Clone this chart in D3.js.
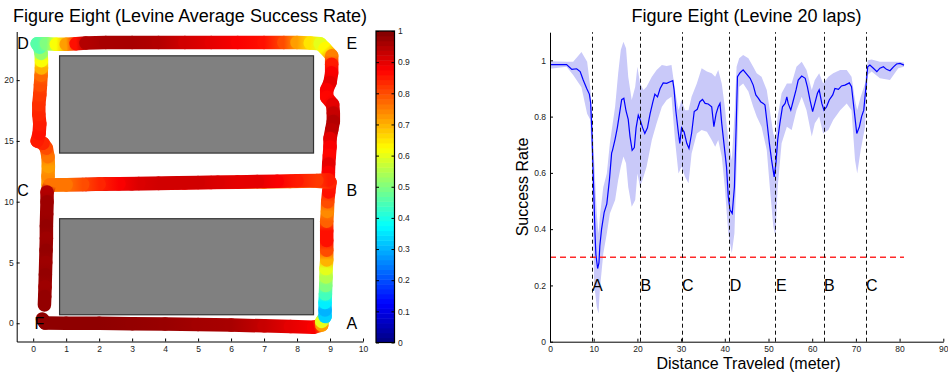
<!DOCTYPE html>
<html>
<head>
<meta charset="utf-8">
<script src="https://cdn.jsdelivr.net/npm/d3@7"></script>
<style>
  body { margin: 0; background: #fff; }
  svg { display: block; font-family: "Liberation Sans", Arial, sans-serif; }
  .axis path, .axis line { stroke: #000; }
  .axis text { font-size: 8.5px; fill: #222; font-family: "Liberation Sans", Arial, sans-serif; }
</style>
</head>
<body>
<svg id="chart" width="948" height="373"></svg>
<script>
// success rate vs distance (mean over 20 laps)
const distX = [0, 3.8, 5, 6.1, 6.9, 7.6, 8.4, 9, 9.3, 9.6, 9.9, 10.3, 10.5, 10.9, 11.2, 11.4, 11.8, 12.4, 13, 13.6, 14.1, 14.3, 14.9, 15.4, 15.9, 16.4, 16.9, 17.4, 17.9, 18.3, 18.8, 19.3, 19.7, 20.2, 20.6, 21.2, 21.7, 22.3, 22.9, 23.5, 24, 24.6, 25.2, 25.9, 26.7, 27.5, 28.1, 28.4, 28.8, 29.4, 29.7, 30.1, 30.7, 31.3, 31.8, 32.4, 33, 33.7, 34.3, 34.9, 35.5, 36.2, 37, 37.5, 38, 38.5, 38.9, 39.3, 39.8, 40.4, 40.8, 41.2, 41.7, 42.2, 42.6, 42.9, 43.5, 44.2, 45, 45.8, 46.5, 47.1, 47.7, 48.2, 48.8, 49.2, 49.6, 50.2, 50.7, 51.3, 51.7, 52.1, 52.6, 53.2, 53.8, 54.2, 54.5, 55.1, 55.7, 56.3, 56.8, 57.6, 58.4, 58.9, 59.5, 60.1, 60.6, 61.2, 61.6, 62.2, 62.7, 63.3, 63.9, 64.7, 65.2, 66, 66.7, 67.5, 68.5, 69, 69.6, 70.2, 70.8, 71.3, 71.8, 72.3, 72.7, 73.2, 74, 74.8, 75.5, 76.3, 77, 77.8, 78.6, 79.3, 80.1, 81];
const meanRate = [0.985, 0.985, 0.968, 0.97, 0.96, 0.93, 0.9, 0.88, 0.85, 0.74, 0.59, 0.385, 0.31, 0.26, 0.28, 0.34, 0.4, 0.46, 0.49, 0.575, 0.67, 0.68, 0.72, 0.76, 0.81, 0.86, 0.865, 0.82, 0.79, 0.73, 0.68, 0.69, 0.76, 0.805, 0.79, 0.76, 0.74, 0.76, 0.81, 0.85, 0.88, 0.87, 0.9, 0.92, 0.918, 0.924, 0.928, 0.895, 0.82, 0.74, 0.705, 0.76, 0.745, 0.705, 0.687, 0.74, 0.818, 0.826, 0.853, 0.861, 0.847, 0.845, 0.835, 0.764, 0.81, 0.835, 0.847, 0.776, 0.705, 0.62, 0.515, 0.468, 0.456, 0.55, 0.764, 0.942, 0.956, 0.966, 0.951, 0.936, 0.912, 0.877, 0.865, 0.853, 0.847, 0.841, 0.788, 0.705, 0.646, 0.586, 0.634, 0.717, 0.776, 0.835, 0.847, 0.87, 0.847, 0.823, 0.859, 0.895, 0.93, 0.944, 0.936, 0.906, 0.859, 0.818, 0.847, 0.883, 0.895, 0.847, 0.823, 0.835, 0.859, 0.877, 0.9, 0.897, 0.909, 0.912, 0.92, 0.906, 0.823, 0.74, 0.764, 0.8, 0.823, 0.906, 0.977, 0.983, 0.972, 0.96, 0.972, 0.977, 0.968, 0.963, 0.977, 0.987, 0.989, 0.983];

// spread band around the mean
const bandX = [0, 3.8, 5.3, 7.2, 8.5, 9.2, 9.6, 10.1, 10.7, 11.1, 11.4, 12.2, 13, 13.7, 14.9, 15.6, 16.2, 16.8, 17.4, 17.9, 18.7, 19.5, 20, 20.6, 21.4, 22.1, 23.3, 24.4, 25.6, 26.7, 27.8, 28.6, 29.4, 30.1, 30.9, 31.7, 32.4, 33.6, 34.7, 35.9, 37, 37.8, 38.5, 39.3, 40, 40.8, 41.6, 42.2, 42.7, 43.3, 44.2, 45.4, 46.5, 47.3, 48.4, 49.6, 50.3, 51.1, 51.6, 52.1, 53, 54.2, 55.3, 56.4, 57.6, 58.7, 59.9, 60.6, 61.6, 62.5, 63.7, 64.8, 66.4, 67.9, 69, 69.8, 70.3, 71.1, 72.1, 72.7, 73.6, 75.5, 77.8, 79.7, 81];
const bandUpper = [0.997, 0.995, 0.995, 1.03, 0.995, 0.906, 0.823, 0.646, 0.456, 0.385, 0.444, 0.55, 0.598, 0.705, 0.835, 0.954, 1.037, 1.066, 1.043, 0.942, 0.859, 0.906, 0.977, 0.918, 0.895, 0.906, 0.942, 0.966, 0.983, 0.98, 0.983, 0.895, 0.823, 0.859, 0.823, 0.823, 0.871, 0.918, 0.972, 0.96, 0.954, 0.942, 0.966, 0.918, 0.835, 0.717, 0.646, 0.8, 0.977, 1.007, 1.019, 1.007, 0.977, 0.954, 0.942, 0.895, 0.823, 0.74, 0.717, 0.8, 0.883, 0.918, 0.918, 0.977, 0.995, 0.966, 0.895, 0.93, 0.954, 0.918, 0.942, 0.954, 0.966, 0.966, 0.942, 0.859, 0.823, 0.871, 0.918, 1.0, 1.003, 0.995, 0.995, 0.995, 0.992];
const bandLower = [0.97, 0.977, 0.948, 0.904, 0.81, 0.79, 0.62, 0.207, 0.124, 0.1, 0.184, 0.314, 0.385, 0.456, 0.504, 0.575, 0.622, 0.658, 0.634, 0.55, 0.48, 0.504, 0.598, 0.55, 0.586, 0.622, 0.717, 0.776, 0.835, 0.859, 0.871, 0.717, 0.598, 0.622, 0.586, 0.563, 0.669, 0.74, 0.752, 0.746, 0.717, 0.693, 0.717, 0.658, 0.55, 0.385, 0.314, 0.385, 0.622, 0.906, 0.918, 0.889, 0.835, 0.8, 0.764, 0.681, 0.55, 0.409, 0.373, 0.55, 0.705, 0.764, 0.752, 0.823, 0.871, 0.823, 0.729, 0.776, 0.8, 0.74, 0.752, 0.788, 0.823, 0.847, 0.823, 0.646, 0.598, 0.681, 0.764, 0.948, 0.96, 0.936, 0.93, 0.972, 0.977];

// landmarks passed along the lap
const landmarkNames = ['A', 'B', 'C', 'D', 'E', 'B', 'C'];
const landmarkDist = [9.5, 20.6, 30.1, 41, 51.6, 62.6, 72.2];
const thresholdRate = 0.3;
const thresholdEnd = 81;

// trajectory on the floor map (meters) with average success rate
const trackX = [0.28, 0.36, 1, 2, 3, 4, 5, 6, 7, 7.8, 8.5, 8.75, 8.75,
  8.85, 8.85, 8.85, 8.86, 8.87, 8.88, 8.88, 8.9, 8.9, 8.9, 8.9, 8.9, 8.92, 8.93, 8.96, 9,
  8.5, 7.8, 7, 6.2, 5.4, 4.6, 3.8, 3, 2.2, 1.6, 1, 0.45,
  0.45, 0.46, 0.45, 0.4, 0.3, 0.12, 0.18, 0.2, 0.17, 0.17, 0.2, 0.22, 0.24, 0.25, 0.25, 0.24, 0.2, 0.12,
  0.4, 0.7, 1, 1.3, 1.6, 2.2, 3, 3.8, 4.6, 5.4, 6.2, 7, 7.6, 8, 8.4, 8.7,
  8.85, 9.05, 9.05, 9.05, 9, 8.9, 8.9, 9.08, 9.1, 9.1, 9.05, 9, 9, 8.98, 8.96, 8.95, 8.95,
  8.6, 8, 7.4, 6.8, 6.2, 5.6, 5, 4.4, 3.8, 3.2, 2.6, 2, 1.5, 1, 0.5,
  0.42, 0.42, 0.41, 0.4, 0.4, 0.39, 0.38, 0.37, 0.36, 0.35, 0.34];
const trackY = [0.35, 0.02, 0.01, 0, -0.03, -0.06, -0.1, -0.15, -0.21, -0.27, -0.33, -0.15, 0.15,
  0.55, 1.1, 1.7, 2.4, 3.1, 3.8, 4.5, 5.2, 6, 6.8, 7.6, 8.4, 9.2, 10, 10.8, 11.6,
  11.7, 11.66, 11.62, 11.6, 11.57, 11.53, 11.5, 11.47, 11.45, 11.42, 11.4, 11.38,
  12.1, 12.9, 13.7, 14.4, 14.8, 15, 15.6, 16.4, 17.2, 18, 18.8, 19.6, 20.4, 21, 21.6, 22.2, 22.7, 23,
  23, 22.95, 22.95, 23, 23.05, 23.1, 23.1, 23.1, 23.1, 23.1, 23.1, 23.1, 23.1, 23.1, 23.05, 23,
  22.6, 22, 21.3, 20.6, 19.8, 19.2, 18.6, 18, 17.3, 16.6, 15.9, 15.2, 14.5, 13.8, 13.1, 12.4, 11.8,
  11.75, 11.72, 11.69, 11.66, 11.63, 11.6, 11.58, 11.55, 11.52, 11.5, 11.47, 11.45, 11.42, 11.4, 11.38,
  10.8, 10, 9, 8, 7, 6, 5, 4, 3, 2.2, 1.5];
const trackRate = [0.985, 0.985, 0.985, 0.985, 0.98, 0.975, 0.965, 0.96, 0.93, 0.9, 0.88, 0.72, 0.6,
  0.33, 0.3, 0.36, 0.44, 0.5, 0.55, 0.6, 0.7, 0.8, 0.86, 0.86, 0.78, 0.74, 0.8, 0.86, 0.84,
  0.79, 0.75, 0.77, 0.84, 0.88, 0.89, 0.91, 0.92, 0.92, 0.9, 0.78, 0.72,
  0.74, 0.72, 0.76, 0.8, 0.84, 0.85, 0.86, 0.85, 0.84, 0.83, 0.82, 0.8, 0.77, 0.7, 0.62, 0.52, 0.46, 0.46,
  0.5, 0.62, 0.72, 0.86, 0.95, 0.96, 0.96, 0.95, 0.92, 0.9, 0.88, 0.86, 0.8, 0.72, 0.65, 0.6,
  0.63, 0.75, 0.85, 0.88, 0.9, 0.88, 0.87, 0.9, 0.93, 0.95, 0.94, 0.9, 0.88, 0.87, 0.9, 0.88, 0.85,
  0.82, 0.85, 0.88, 0.9, 0.9, 0.91, 0.92, 0.92, 0.92, 0.91, 0.88, 0.84, 0.8, 0.76, 0.76,
  0.95, 0.97, 0.97, 0.98, 0.97, 0.98, 0.97, 0.98, 0.97, 0.98, 0.98];

// building blocks (gray) and corner names on the map
const blockX0 = [0.8, 0.8];
const blockX1 = [8.5, 8.5];
const blockY0 = [14, 0.7];
const blockY1 = [22, 8.6];
const cornerNames = ['D', 'E', 'C', 'B', 'F', 'A'];
const cornerX = [-0.48, 9.5, -0.48, 9.5, 0.04, 9.5];
const cornerY = [23.05, 23.05, 10.97, 10.97, 0, 0];

const colorTicks = d3.range(0, 11).map((i) => i / 10);
const rateTicks = [0, 0.2, 0.4, 0.6, 0.8, 1];
const distTicks = d3.range(0, 100, 10);

// MATLAB jet colormap
const jet = (v) => {
  const c = (t) => Math.max(0, Math.min(1, t)) * 255;
  return d3.rgb(c(1.5 - Math.abs(4 * v - 3)), c(1.5 - Math.abs(4 * v - 2)), c(1.5 - Math.abs(4 * v - 1))).formatHex();
};
const fmt = (d) => String(+d.toFixed(1));
const crisp = (v) => Math.round(v) + 0.5;

const svg = d3.select('#chart');
const defs = svg.append('defs');

// ---------- left: floor map ----------
const mapX = d3.scaleLinear().domain([-0.5, 10]).range([16.7, 363]);
const mapY = d3.scaleLinear().domain([-1.5, 24]).range([341.5, 31.5]);

svg.append('text')
  .attr('x', 190).attr('y', 22)
  .attr('text-anchor', 'middle')
  .attr('font-size', 18)
  .text('Figure Eight (Levine Average Success Rate)');

svg.selectAll('rect.block')
  .data(blockX0)
  .enter()
  .append('rect')
  .attr('class', 'block')
  .attr('x', (d) => mapX(d))
  .attr('y', (d, i) => mapY(blockY1[i]))
  .attr('width', (d, i) => mapX(blockX1[i]) - mapX(d))
  .attr('height', (d, i) => mapY(blockY0[i]) - mapY(blockY1[i]))
  .attr('fill', '#808080')
  .attr('stroke', '#333')
  .attr('stroke-width', 1.2);

const segs = d3.range(trackX.length - 1).map((i) => ({
  i,
  x1: mapX(trackX[i]), y1: mapY(trackY[i]),
  x2: mapX(trackX[i + 1]), y2: mapY(trackY[i + 1]),
  c1: jet(trackRate[i]), c2: jet(trackRate[i + 1]),
}));

const grads = defs.selectAll('linearGradient')
  .data(segs)
  .enter()
  .append('linearGradient')
  .attr('id', (d) => 'seg' + d.i)
  .attr('gradientUnits', 'userSpaceOnUse')
  .attr('x1', (d) => d.x1).attr('y1', (d) => d.y1)
  .attr('x2', (d) => d.x2).attr('y2', (d) => d.y2);
grads.append('stop').attr('offset', 0).attr('stop-color', (d) => d.c1);
grads.append('stop').attr('offset', 1).attr('stop-color', (d) => d.c2);

svg.append('g')
  .selectAll('line')
  .data(segs)
  .enter()
  .append('line')
  .attr('x1', (d) => d.x1).attr('y1', (d) => d.y1)
  .attr('x2', (d) => d.x2).attr('y2', (d) => d.y2)
  .attr('stroke', (d) => `url(#seg${d.i})`)
  .attr('stroke-width', 13.5)
  .attr('stroke-linecap', 'round');

svg.append('g')
  .selectAll('text')
  .data(cornerNames)
  .enter()
  .append('text')
  .attr('x', (d, i) => mapX(cornerX[i]))
  .attr('y', (d, i) => mapY(cornerY[i]))
  .attr('dy', '0.36em')
  .attr('font-size', 16)
  .text((d) => d);

svg.append('g')
  .attr('class', 'axis')
  .attr('transform', `translate(0,${mapY(-1.5)})`)
  .call(d3.axisBottom(mapX).tickValues(d3.range(0, 11)).tickSizeInner(-3).tickSizeOuter(0).tickPadding(4));

svg.append('g')
  .attr('class', 'axis')
  .attr('transform', `translate(${mapX(-0.5)},0)`)
  .call(d3.axisLeft(mapY).tickValues([0, 5, 10, 15, 20]).tickSizeInner(-3).tickSizeOuter(0).tickPadding(3));

// colorbar
const cbY = d3.scaleLinear().domain([0, 1]).range([342.5, 31]);
const cbLeft = 376;
const cbRight = 394.5;
svg.append('g')
  .selectAll('rect')
  .data(d3.range(64))
  .enter()
  .append('rect')
  .attr('x', cbLeft)
  .attr('width', cbRight - cbLeft)
  .attr('y', (d) => cbY((d + 1) / 64))
  .attr('height', (d) => cbY(d / 64) - cbY((d + 1) / 64) + 0.5)
  .attr('fill', (d) => jet((d + 0.5) / 64));
svg.append('rect')
  .attr('x', cbLeft).attr('y', cbY(1))
  .attr('width', cbRight - cbLeft).attr('height', cbY(0) - cbY(1))
  .attr('fill', 'none').attr('stroke', '#000').attr('stroke-width', 1.2);
svg.append('g')
  .attr('class', 'axis')
  .attr('transform', `translate(${cbRight},0)`)
  .call(d3.axisRight(cbY).tickValues(colorTicks).tickFormat(fmt).tickSizeInner(-3).tickSizeOuter(0).tickPadding(3.5))
  .call((g) => g.select('.domain').remove());
svg.append('g')
  .attr('class', 'axis')
  .attr('transform', `translate(${cbLeft},0)`)
  .call(d3.axisLeft(cbY).tickValues(colorTicks).tickFormat('').tickSizeInner(-3).tickSizeOuter(0))
  .call((g) => g.select('.domain').remove());

// ---------- right: success rate vs distance ----------
const rateX = d3.scaleLinear().domain([0, 90]).range([550, 943.3]);
const rateY = d3.scaleLinear().domain([0, 1.1]).range([341.7, 32.2]);

svg.append('text')
  .attr('x', 746.5).attr('y', 22)
  .attr('text-anchor', 'middle')
  .attr('font-size', 18)
  .text('Figure Eight (Levine 20 laps)');

const band = d3.area()
  .x((d, i) => rateX(bandX[i]))
  .y0((d, i) => rateY(bandLower[i]))
  .y1((d) => rateY(d));
svg.append('path')
  .attr('d', band(bandUpper))
  .attr('fill', '#c9c9f9');

const meanLine = d3.line()
  .x((d, i) => rateX(distX[i]))
  .y((d) => rateY(d));
svg.append('path')
  .attr('d', meanLine(meanRate))
  .attr('fill', 'none')
  .attr('stroke', '#0000ff')
  .attr('stroke-width', 1.2);

svg.append('line')
  .attr('x1', rateX(0)).attr('x2', rateX(thresholdEnd))
  .attr('y1', rateY(thresholdRate)).attr('y2', rateY(thresholdRate))
  .attr('stroke', '#ff2a2a')
  .attr('stroke-width', 1.6)
  .attr('stroke-dasharray', '6,4');

svg.append('g')
  .selectAll('line')
  .data(landmarkDist)
  .enter()
  .append('line')
  .attr('x1', (d) => crisp(rateX(d))).attr('x2', (d) => crisp(rateX(d)))
  .attr('y1', rateY(0)).attr('y2', rateY(1.1))
  .attr('stroke', '#111')
  .attr('stroke-width', 1)
  .attr('stroke-dasharray', '4,3');

svg.append('g')
  .selectAll('text')
  .data(landmarkNames)
  .enter()
  .append('text')
  .attr('x', (d, i) => rateX(landmarkDist[i]) + 0.5)
  .attr('y', rateY(0.2))
  .attr('dy', '0.36em')
  .attr('font-size', 16)
  .text((d) => d);

svg.append('g')
  .attr('class', 'axis')
  .attr('transform', `translate(0,${rateY(0)})`)
  .call(d3.axisBottom(rateX).tickValues(distTicks).tickSizeInner(-3).tickSizeOuter(0).tickPadding(4));

svg.append('g')
  .attr('class', 'axis')
  .attr('transform', `translate(${rateX(0)},0)`)
  .call(d3.axisLeft(rateY).tickValues(rateTicks).tickFormat(fmt).tickSizeInner(-3).tickSizeOuter(0).tickPadding(4));

svg.append('text')
  .attr('x', 748.5).attr('y', 368.5)
  .attr('text-anchor', 'middle')
  .attr('font-size', 16)
  .text('Distance Traveled (meter)');

svg.append('text')
  .attr('transform', 'translate(528,187) rotate(-90)')
  .attr('text-anchor', 'middle')
  .attr('font-size', 16)
  .text('Success Rate');
</script>
</body>
</html>
